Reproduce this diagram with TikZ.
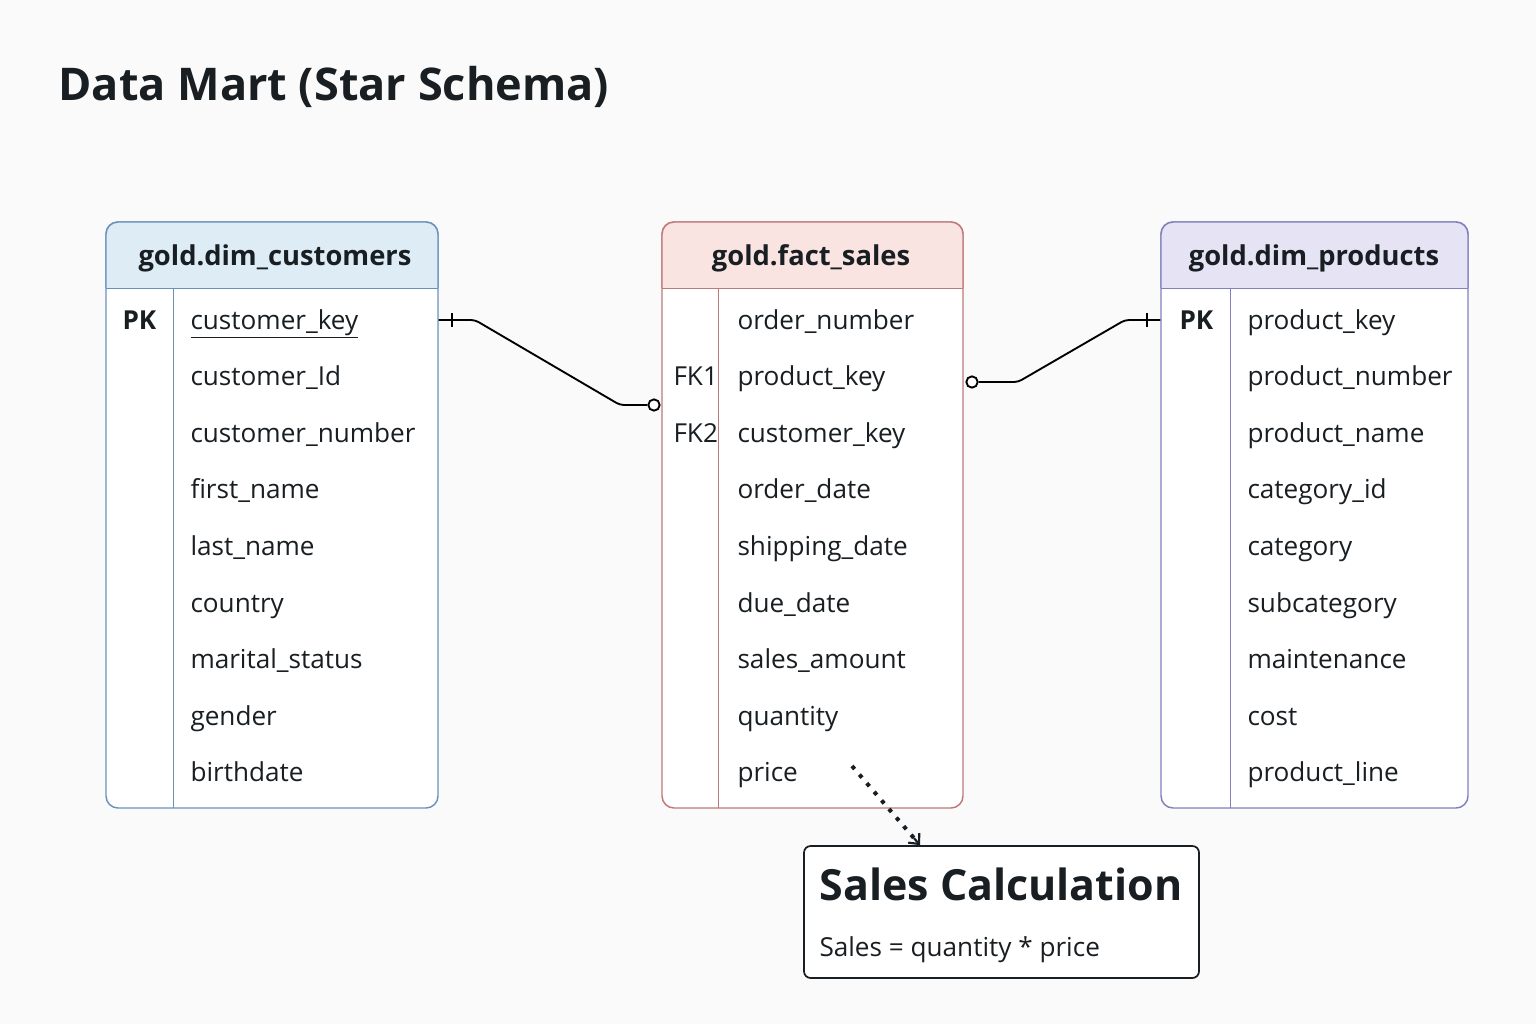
\documentclass[tikz,border=0pt]{standalone}
\usepackage{fontspec}
\setmainfont{Open Sans}
\usetikzlibrary{positioning,arrows.meta,calc}

\definecolor{inkDark}{RGB}{24,30,34}
\definecolor{custLine}{RGB}{104,146,186}
\definecolor{custHead}{RGB}{222,236,246}
\definecolor{factLine}{RGB}{190,122,118}
\definecolor{factHead}{RGB}{249,228,226}
\definecolor{prodLine}{RGB}{128,128,190}
\definecolor{prodHead}{RGB}{229,227,244}
\definecolor{pageBg}{RGB}{250,250,250}

\tikzset{every picture/.style={line width=0.75pt}}
\tikzset{
  frame/.style={draw=#1, fill=white, rounded corners=9pt, inner sep=0pt, line width=1.1pt},
  rowtext/.style={anchor=base west, inner sep=0.75pt, text=inkDark, font=\fontsize{19.6}{23}\selectfont},
  keytext/.style={rowtext},
  headtext/.style={anchor=center, inner sep=0.75pt, text=inkDark, font=\fontsize{20.5}{24}\selectfont\bfseries},
  crowfoot/.style={circle, draw, fill=white, inner sep=0pt, minimum size=8.5pt, line width=1.4pt},
  relline/.style={line width=1.4pt, rounded corners=3pt}
}

\begin{document}
\begin{tikzpicture}[x=0.75pt,y=0.75pt,yscale=-1,xscale=1]
%set diagram to 1536 x 1024
\path[use as bounding box, fill=pageBg] (0,0) rectangle (1536,1024);

% Title
\node (title) [anchor=base west, inner sep=0pt, text=inkDark, font=\fontsize{33.8}{40}\selectfont\bfseries] at (58,101) {Data Mart (Star Schema)};

%Shape: Table frames
\node (cust) [frame=custLine, minimum width=249pt, minimum height=439.5pt] at (272,515) {};
\node (fact) [frame=factLine, minimum width=225.75pt, minimum height=439.5pt] at (812.5,515) {};
\node (prod) [frame=prodLine, minimum width=230.25pt, minimum height=439.5pt] at (1314.5,515) {};

%Shape: Header fills
\fill [custHead] (106,288) [rounded corners=9pt] -- (106,222) -- (438,222) [sharp corners] -- (438,288) -- cycle ;
\fill [factHead] (662,288) [rounded corners=9pt] -- (662,222) -- (963,222) [sharp corners] -- (963,288) -- cycle ;
\fill [prodHead] (1161,288) [rounded corners=9pt] -- (1161,222) -- (1468,222) [sharp corners] -- (1468,288) -- cycle ;
\draw [custLine, line width=1.1pt, rounded corners=9pt] (106,288) -- (106,222) -- (438,222) -- (438,288) ;
\draw [factLine, line width=1.1pt, rounded corners=9pt] (662,288) -- (662,222) -- (963,222) -- (963,288) ;
\draw [prodLine, line width=1.1pt, rounded corners=9pt] (1161,288) -- (1161,222) -- (1468,222) -- (1468,288) ;

%Straight Lines: header rules and key columns
\draw [custLine] (106,288) -- (438,288) (173,288) -- (173,808) ;
\draw [factLine] (662,288) -- (963,288) (718,288) -- (718,808) ;
\draw [prodLine] (1161,288) -- (1468,288) (1230,288) -- (1230,808) ;

% Header Text
\node (custTitle) [headtext] at (275,258) {gold.dim\_customers};
\node (factTitle) [headtext] at (811,258) {gold.fact\_sales};
\node (prodTitle) [headtext] at (1314,258) {gold.dim\_products};

% Row Text
\foreach \t [count=\i] in {\underline{customer\_key},customer\_Id,customer\_number,first\_name,last\_name,country,marital\_status,gender,birthdate}
  \node (cust-\i) [rowtext] at (189,329+56.6*\i-56.6) {\t};
\foreach \t [count=\i] in {order\_number,product\_key,customer\_key,order\_date,shipping\_date,due\_date,sales\_amount,quantity,price}
  \node (fact-\i) [rowtext] at (736,329+56.6*\i-56.6) {\t};
\foreach \t [count=\i] in {product\_key,product\_number,product\_name,category\_id,category,subcategory,maintenance,cost,product\_line}
  \node (prod-\i) [rowtext] at (1246,329+56.6*\i-56.6) {\t};

% Key Text
\node (custPK) [keytext, font=\fontsize{19.6}{23}\selectfont\bfseries] at (121,329) {PK};
\node (factFK1) [keytext] at (672,385.6) {FK1};
\node (factFK2) [keytext] at (672,442.2) {FK2};
\node (prodPK) [keytext, font=\fontsize{19.6}{23}\selectfont\bfseries] at (1178,329) {PK};

%Shape: Circle ends
\node (custEnd) [crowfoot] at (654,405) {};
\node (prodEnd) [crowfoot] at (972,382) {};

%Straight Lines: relations
\draw [relline] (cust.east |- 438,320) -- (475,320) -- (620,405) -- (custEnd.west) ;
\draw [line width=1.4pt] (452,313) -- (452,327) ;
\draw [relline] (prodEnd.east) -- (1018,382) -- (1125,320) -- (prod.west |- 1161,320) ;
\draw [line width=1.4pt] (1147,313) -- (1147,327) ;

%Rounded Rect: Sales Calculation
\node (calc) [draw=inkDark, fill=white, rounded corners=5pt, line width=1.3pt, minimum width=296.25pt, minimum height=99pt, inner sep=0pt] at (1001.5,912) {};
\node (calcTitle) [anchor=base west, inner sep=0pt, text=inkDark, font=\fontsize{32.2}{38}\selectfont\bfseries] at (819,900) {Sales Calculation};
\node (calcFormula) [anchor=base west, inner sep=0pt, text=inkDark, font=\fontsize{19.6}{23}\selectfont] at (819,956) {Sales = quantity * price};

%Straight Lines: dotted pointer
\coordinate (priceTip) at (852,766) ;
\coordinate (calcTop) at (calc.north west -| 920,846) ;
\draw [inkDark, line width=3pt, dash pattern=on 3pt off 5.5pt] (priceTip) -- ($(calcTop)!6pt!(priceTip)$) ;
\draw [inkDark, line width=1.6pt, -{Straight Barb[length=6pt, width=11pt]}] ($(calcTop)!7pt!(priceTip)$) -- (calcTop) ;

\end{tikzpicture}
\end{document}
